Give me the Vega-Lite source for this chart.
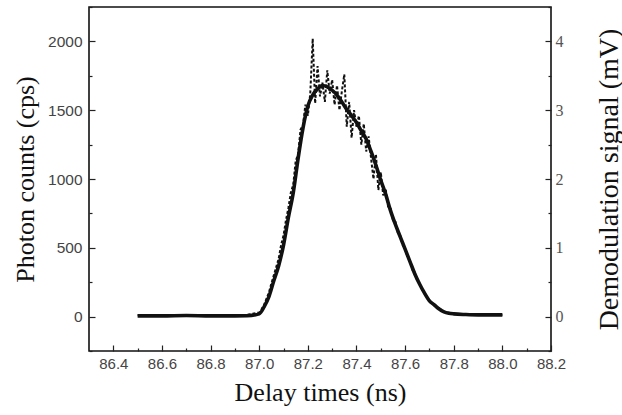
{
  "$schema": "https://vega.github.io/schema/vega-lite/v6.json",
  "width": 462,
  "height": 344,
  "autosize": {"type": "none"},
  "padding": {"left": 89, "top": 7, "right": 71, "bottom": 64},
  "background": "white",
  "config": {
    "view": {"stroke": "#111", "strokeWidth": 1.6},
    "axis": {
      "domain": false,
      "grid": false,
      "tickColor": "#222",
      "tickWidth": 1.2,
      "labelFont": "Liberation Sans",
      "labelFontSize": 15,
      "labelColor": "#444",
      "titleFont": "Liberation Serif",
      "titleFontSize": 26,
      "titleFontWeight": "normal",
      "titleColor": "#111"
    }
  },
  "datasets": {
    "photon": [
      {"t": 86.5, "counts": 10}, {"t": 86.7, "counts": 12}, {"t": 86.9, "counts": 10}, {"t": 86.95, "counts": 12},
      {"t": 87.0, "counts": 30}, {"t": 87.01, "counts": 55}, {"t": 87.02, "counts": 85}, {"t": 87.03, "counts": 130},
      {"t": 87.04, "counts": 175}, {"t": 87.05, "counts": 240}, {"t": 87.06, "counts": 300}, {"t": 87.07, "counts": 360},
      {"t": 87.08, "counts": 420}, {"t": 87.09, "counts": 520}, {"t": 87.1, "counts": 590}, {"t": 87.11, "counts": 700},
      {"t": 87.12, "counts": 790}, {"t": 87.13, "counts": 900}, {"t": 87.14, "counts": 960}, {"t": 87.15, "counts": 1130},
      {"t": 87.16, "counts": 1180}, {"t": 87.17, "counts": 1360}, {"t": 87.18, "counts": 1390}, {"t": 87.19, "counts": 1540},
      {"t": 87.2, "counts": 1460}, {"t": 87.21, "counts": 1620}, {"t": 87.22, "counts": 2020}, {"t": 87.23, "counts": 1550},
      {"t": 87.24, "counts": 1820}, {"t": 87.25, "counts": 1600}, {"t": 87.26, "counts": 1700}, {"t": 87.27, "counts": 1560},
      {"t": 87.28, "counts": 1790}, {"t": 87.29, "counts": 1620}, {"t": 87.3, "counts": 1720}, {"t": 87.31, "counts": 1540},
      {"t": 87.32, "counts": 1680}, {"t": 87.33, "counts": 1500}, {"t": 87.34, "counts": 1640}, {"t": 87.35, "counts": 1760},
      {"t": 87.36, "counts": 1380}, {"t": 87.37, "counts": 1560}, {"t": 87.38, "counts": 1300}, {"t": 87.39, "counts": 1500},
      {"t": 87.4, "counts": 1380}, {"t": 87.41, "counts": 1460}, {"t": 87.42, "counts": 1250}, {"t": 87.43, "counts": 1400},
      {"t": 87.44, "counts": 1200}, {"t": 87.45, "counts": 1310}, {"t": 87.46, "counts": 1150}, {"t": 87.47, "counts": 1000},
      {"t": 87.48, "counts": 1180}, {"t": 87.49, "counts": 920}, {"t": 87.5, "counts": 1050}, {"t": 87.51, "counts": 880},
      {"t": 87.52, "counts": 930}, {"t": 87.53, "counts": 800}, {"t": 87.54, "counts": 790}, {"t": 87.55, "counts": 700},
      {"t": 87.56, "counts": 690}, {"t": 87.57, "counts": 610}, {"t": 87.58, "counts": 590}, {"t": 87.59, "counts": 520},
      {"t": 87.6, "counts": 500}, {"t": 87.61, "counts": 430}, {"t": 87.62, "counts": 410}, {"t": 87.63, "counts": 340},
      {"t": 87.64, "counts": 320}, {"t": 87.65, "counts": 260}, {"t": 87.66, "counts": 240}, {"t": 87.67, "counts": 195},
      {"t": 87.68, "counts": 175}, {"t": 87.69, "counts": 135}, {"t": 87.7, "counts": 120}, {"t": 87.72, "counts": 80},
      {"t": 87.74, "counts": 60}, {"t": 87.76, "counts": 35}, {"t": 87.8, "counts": 20}, {"t": 87.9, "counts": 12},
      {"t": 88.0, "counts": 12}
    ],
    "demod": [
      {"t": 86.5, "mv": 0.01}, {"t": 86.6, "mv": 0.01}, {"t": 86.7, "mv": 0.015}, {"t": 86.8, "mv": 0.01},
      {"t": 86.9, "mv": 0.01}, {"t": 86.95, "mv": 0.012}, {"t": 87.0, "mv": 0.04}, {"t": 87.02, "mv": 0.14},
      {"t": 87.04, "mv": 0.29}, {"t": 87.06, "mv": 0.52}, {"t": 87.08, "mv": 0.74}, {"t": 87.1, "mv": 1.04},
      {"t": 87.12, "mv": 1.44}, {"t": 87.14, "mv": 1.8}, {"t": 87.16, "mv": 2.3}, {"t": 87.18, "mv": 2.74},
      {"t": 87.2, "mv": 3.06}, {"t": 87.22, "mv": 3.22}, {"t": 87.24, "mv": 3.31}, {"t": 87.26, "mv": 3.36},
      {"t": 87.28, "mv": 3.34}, {"t": 87.3, "mv": 3.29}, {"t": 87.32, "mv": 3.22}, {"t": 87.34, "mv": 3.12},
      {"t": 87.36, "mv": 3.01}, {"t": 87.38, "mv": 2.92}, {"t": 87.4, "mv": 2.82}, {"t": 87.42, "mv": 2.7},
      {"t": 87.44, "mv": 2.58}, {"t": 87.46, "mv": 2.4}, {"t": 87.48, "mv": 2.2}, {"t": 87.5, "mv": 1.98},
      {"t": 87.52, "mv": 1.78}, {"t": 87.54, "mv": 1.54}, {"t": 87.56, "mv": 1.34}, {"t": 87.58, "mv": 1.16},
      {"t": 87.6, "mv": 0.98}, {"t": 87.62, "mv": 0.8}, {"t": 87.64, "mv": 0.62}, {"t": 87.66, "mv": 0.47},
      {"t": 87.68, "mv": 0.34}, {"t": 87.7, "mv": 0.23}, {"t": 87.72, "mv": 0.17}, {"t": 87.74, "mv": 0.11},
      {"t": 87.76, "mv": 0.07}, {"t": 87.78, "mv": 0.05}, {"t": 87.8, "mv": 0.04}, {"t": 87.85, "mv": 0.03},
      {"t": 87.9, "mv": 0.025}, {"t": 88.0, "mv": 0.025}
    ]
  },
  "layer": [
    {
      "data": {"name": "photon"},
      "mark": {"type": "line", "color": "#111", "strokeWidth": 2, "strokeDash": [3, 2]},
      "encoding": {
        "x": {
          "field": "t", "type": "quantitative",
          "scale": {"domain": [86.3, 88.2], "nice": false, "zero": false},
          "axis": {"orient": "bottom", "values": [86.4, 86.6, 86.8, 87.0, 87.2, 87.4, 87.6, 87.8, 88.0, 88.2], "format": ".1f", "tickSize": -6, "labelPadding": 11, "labelFlush": false, "title": "Delay times (ns)", "titlePadding": 8}
        },
        "y": {
          "field": "counts", "type": "quantitative",
          "scale": {"domain": [-250, 2250], "nice": false, "zero": false},
          "axis": {"orient": "left", "values": [0, 500, 1000, 1500, 2000], "format": "d", "tickSize": -6, "labelPadding": 13, "labelFontSize": 15.5, "title": "Photon counts  (cps)", "titlePadding": 9}
        }
      }
    },
    {
      "data": {"name": "demod"},
      "mark": {"type": "line", "color": "#111", "strokeWidth": 3.6, "interpolate": "monotone"},
      "encoding": {
        "x": {"field": "t", "type": "quantitative", "axis": null},
        "y": {
          "field": "mv", "type": "quantitative",
          "scale": {"domain": [-0.5, 4.5], "nice": false, "zero": false},
          "axis": {"orient": "right", "values": [0, 1, 2, 3, 4], "format": "d", "tickSize": -6, "labelPadding": 10, "labelFont": "Liberation Serif", "labelFontSize": 16, "labelColor": "#555", "title": "Demodulation signal  (mV)", "titleAngle": 270, "titleBaseline": "top", "titleFontSize": 28, "titlePadding": 32}
        }
      }
    },
    {
      "data": {"name": "photon"},
      "mark": {"type": "line", "opacity": 0},
      "encoding": {
        "x": {"field": "t", "type": "quantitative", "axis": {"orient": "bottom", "values": [86.5, 86.7, 86.9, 87.1, 87.3, 87.5, 87.7, 87.9, 88.1], "tickSize": -3, "labels": false, "title": null}},
        "y": {
          "field": "counts", "type": "quantitative",
          "scale": {"domain": [-250, 2250], "nice": false, "zero": false},
          "axis": {"orient": "left", "values": [-250, 250, 750, 1250, 1750, 2250], "tickSize": -3, "labels": false, "title": null}
        }
      }
    },
    {
      "data": {"name": "demod"},
      "mark": {"type": "line", "opacity": 0},
      "encoding": {
        "x": {"field": "t", "type": "quantitative", "axis": null},
        "y": {
          "field": "mv", "type": "quantitative",
          "scale": {"domain": [-0.5, 4.5], "nice": false, "zero": false},
          "axis": {"orient": "right", "values": [-0.5, 0.5, 1.5, 2.5, 3.5, 4.5], "tickSize": -3, "labels": false, "title": null}
        }
      }
    }
  ],
  "resolve": {"scale": {"y": "independent"}, "axis": {"x": "independent"}}
}
